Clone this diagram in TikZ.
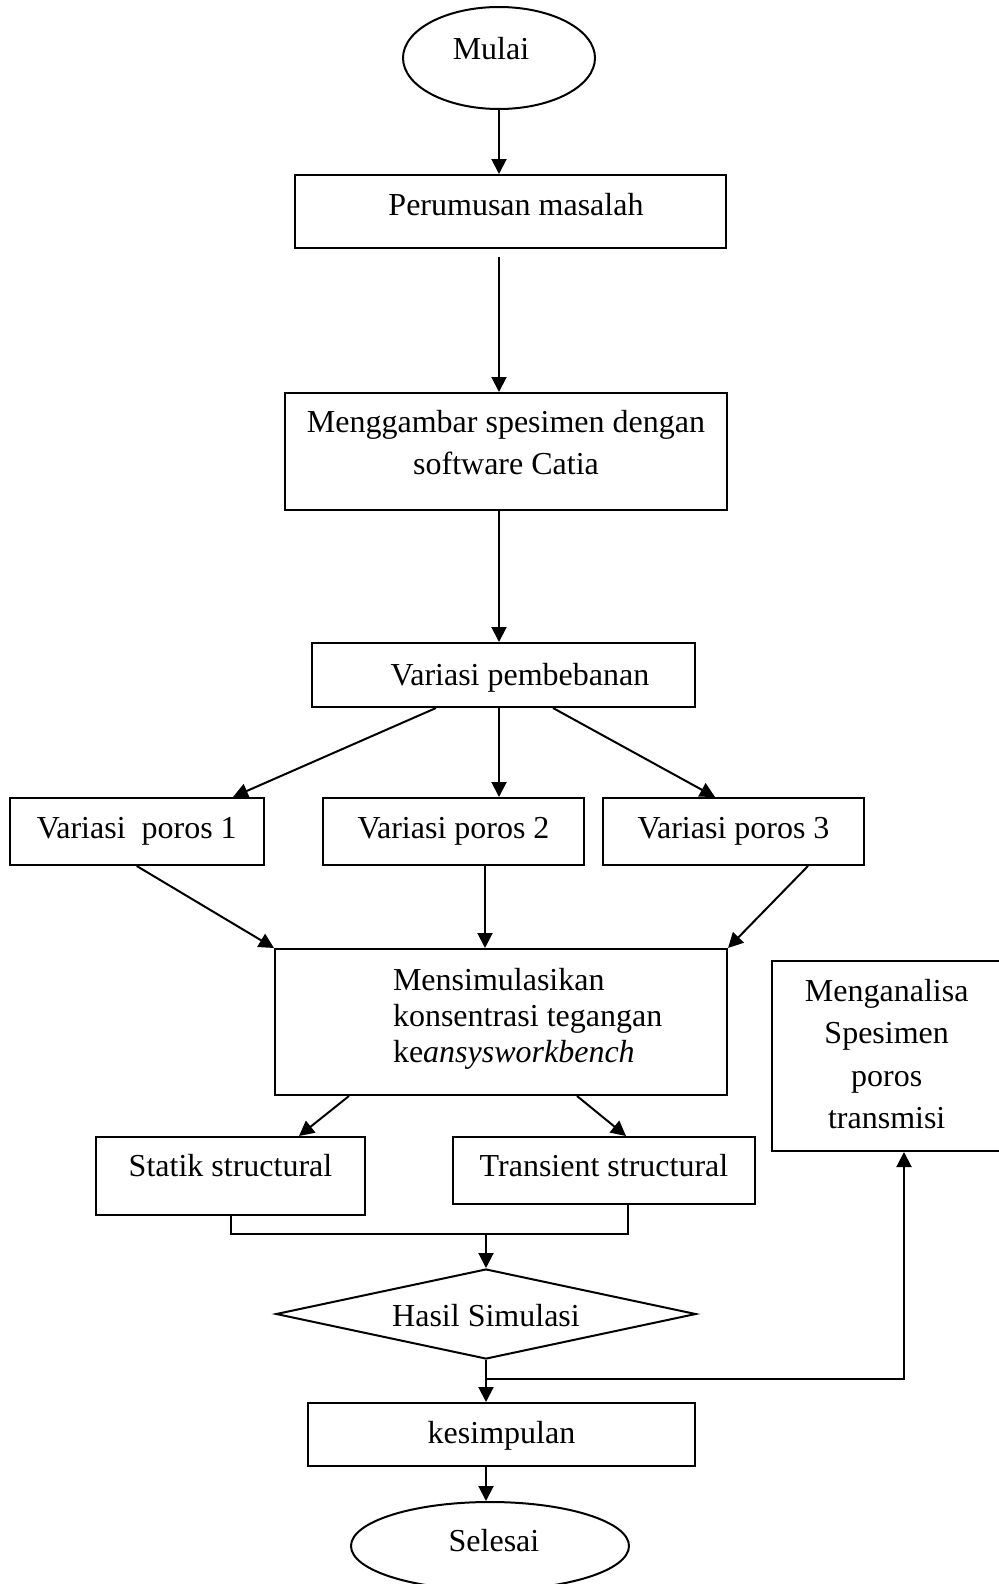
\documentclass[tikz,border=0pt]{standalone}
\usepackage{fontspec}
\setmainfont{Liberation Serif}
\usetikzlibrary{shapes.geometric,arrows.meta,calc}
\begin{document}
\begin{tikzpicture}[x=0.5pt,y=-0.5pt,
  every node/.style={font=\fontsize{16pt}{19pt}\selectfont},
  box/.style={draw, line width=1pt, rectangle, inner sep=0pt, text height=11pt},
  oval/.style={draw, line width=1pt, ellipse, inner sep=0pt, text height=11pt},
  dmd/.style={draw, line width=1pt, diamond, aspect=4.67, inner sep=0pt},
  dp/.style={text depth=#1},
  txt/.style={inner sep=0pt, outer sep=0pt},
  arr/.style={line width=1pt, -{Triangle[length=7.5pt,width=7.5pt]}},
  con/.style={line width=1pt}]
\useasboundingbox (0,0) rectangle (998,1584);

% nodes
\node[oval, dp=9pt, minimum width=96pt, minimum height=51pt] (mulai) at (499,58) {Mulai\hspace*{8pt}};
\node[box, dp=7.5pt, minimum width=215.5pt, minimum height=36.5pt] (perumusan) at (510.5,211.5) {\hspace*{5.5pt}Perumusan masalah};
\node[box, minimum width=221pt, minimum height=58.5pt] (menggambar) at (506,451.5) {};
\node[txt, anchor=north, align=center, font=\fontsize{16pt}{21.1pt}\selectfont] (menggambartxt) at (506,408.7) {\rule{0pt}{12pt}Menggambar spesimen dengan\\software Catia};
\node[box, dp=1pt, minimum width=191.5pt, minimum height=32pt] (pembebanan) at (503.5,675) {\hspace*{16.5pt}Variasi pembebanan};
\node[box, dp=4.5pt, minimum width=127.25pt, minimum height=33.5pt] (poros1) at (136.75,831.5) {Variasi\ \ poros 1};
\node[box, dp=4.5pt, minimum width=130.5pt, minimum height=33.5pt] (poros2) at (453.5,831.5) {Variasi poros 2};
\node[box, dp=4.5pt, minimum width=130.5pt, minimum height=33.5pt] (poros3) at (733.5,831.5) {Variasi poros 3};
\node[box, minimum width=226pt, minimum height=73pt] (sim) at (501,1022) {};
\node[txt, anchor=north west, align=left, font=\fontsize{16pt}{18.1pt}\selectfont] (simtxt) at (393,966) {\rule{0pt}{12pt}Mensimulasikan\\konsentrasi tegangan\\ke\textit{ansysworkbench}};
\node[box, minimum width=115.5pt, minimum height=95pt] (analisa) at (887.5,1056) {};
\node[txt, anchor=north, align=center, font=\fontsize{16pt}{21.1pt}\selectfont] (analisatxt) at (886.7,977.7) {\rule{0pt}{12pt}Menganalisa\\Spesimen\\poros\\transmisi};
\node[box, dp=10.3pt, minimum width=134.5pt, minimum height=39pt] (statik) at (230.5,1176) {Statik structural};
\node[box, dp=5.5pt, minimum width=151pt, minimum height=33.5pt] (transient) at (604,1170.5) {Transient structural};
\node[dmd, text height=13pt, text depth=1pt, minimum width=210pt, minimum height=45pt] (hasil) at (486,1314) {Hasil Simulasi};
\node[box, dp=2.2pt, minimum width=193.5pt, minimum height=31.5pt] (kesimpulan) at (501.5,1434.5) {kesimpulan};
\node[oval, dp=5.3pt, minimum width=139pt, minimum height=44pt] (selesai) at (490,1546) {\hspace*{4pt}Selesai};

% connectors
\draw[arr] (mulai.south) -- (mulai.south |- perumusan.north);
\draw[arr] ($(perumusan.south -| mulai.south)+(0,8)$) -- (mulai.south |- menggambar.north);
\draw[arr] (menggambar.south -| mulai.south) -- (pembebanan.north -| mulai.south);
\draw[arr] ($(pembebanan.south west)+(125,0)$) -- ($(poros1.north east)+(-32,0)$);
\draw[arr] (pembebanan.south -| mulai.south) -- (poros2.north -| mulai.south);
\draw[arr] ($(pembebanan.south west)+(242,0)$) -- ($(poros3.north west)+(113,0)$);
\draw[arr] (poros1.south) -- (sim.north west);
\coordinate (p2s) at ($(poros2.south)+(31.5,0)$);
\draw[arr] (p2s) -- (p2s |- sim.north);
\draw[arr] ($(poros3.south east)+(-57,0)$) -- (sim.north east);
\draw[arr] ($(sim.south west)+(75,0)$) -- ($(statik.north west)+(204,0)$);
\draw[arr] ($(sim.south east)+(-151,0)$) -- ($(transient.north west)+(174,0)$);
\coordinate (merge) at (hasil.north |- 0,1234);
\coordinate (tjoin) at ($(transient.south west)+(176,0)$);
\draw[con] (statik.south) |- (merge) -| (tjoin);
\draw[arr] (merge) -- (hasil.north);
\draw[arr] (hasil.south) -- (hasil.south |- kesimpulan.north);
\coordinate (branch) at (hasil.south |- 0,1379);
\draw[arr] (branch) -| ($(analisa.south west)+(133,0)$);
\draw[arr] (kesimpulan.south -| hasil.south) -- (hasil.south |- selesai.north);
\end{tikzpicture}
\end{document}
